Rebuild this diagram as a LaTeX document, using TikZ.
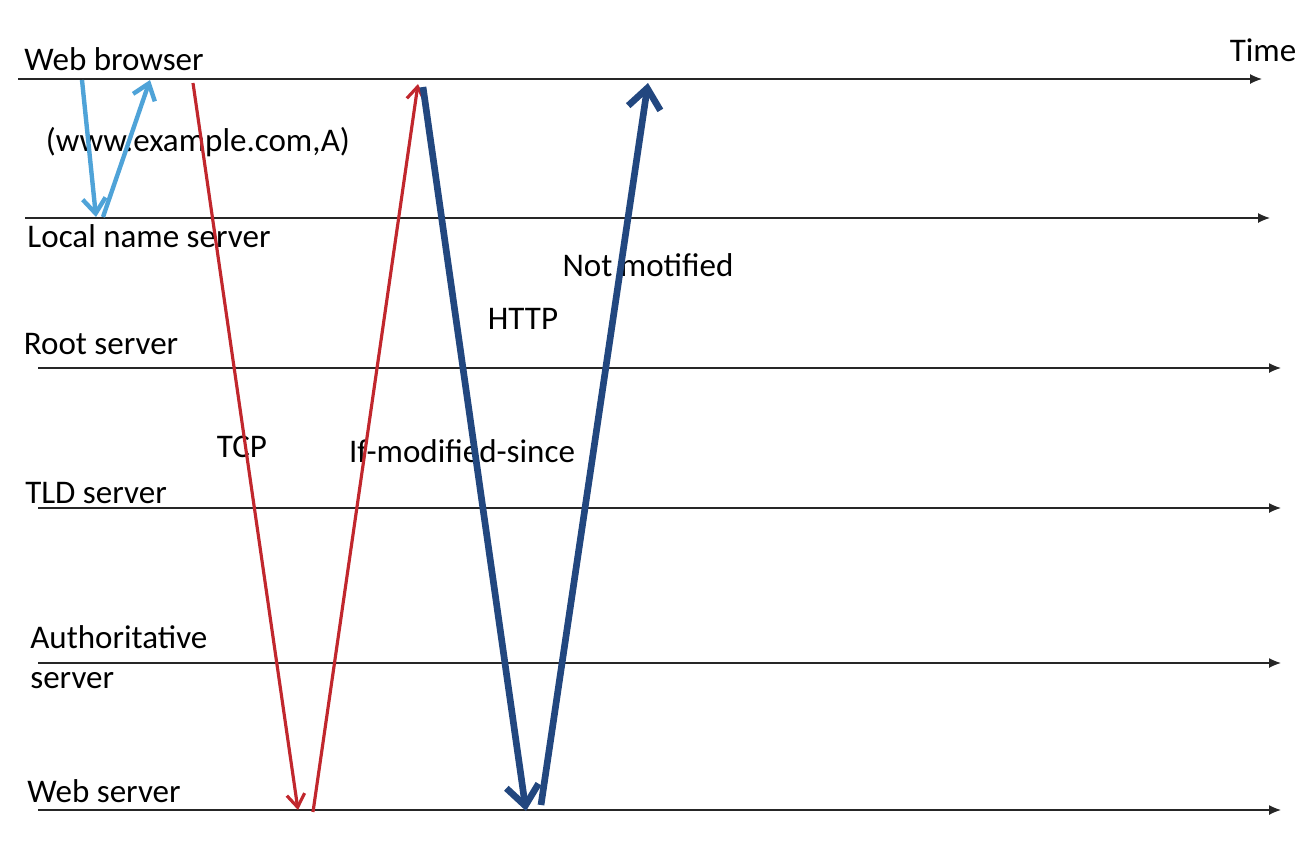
\documentclass[tikz,border=0pt]{standalone}
\usepackage{fontspec}
\setmainfont{Carlito}
\usetikzlibrary{arrows.meta}
\definecolor{dnsblue}{HTML}{4FA3D8}
\definecolor{tcpred}{HTML}{C1272D}
\definecolor{httpblue}{HTML}{22477F}

\begin{document}
\begin{tikzpicture}[x=0.02cm, y=-0.02cm, every node/.style={font=\fontsize{18.8}{22}\selectfont, inner sep=0pt},
  timeline/.style={draw=black!85, line width=0.7pt, -{Latex[length=2.4mm, width=2mm]}},
  dns/.style={draw=dnsblue, line width=2.5pt, -{Straight Barb[length=3mm, width=4.6mm]}},
  tcp/.style={draw=tcpred, line width=1.8pt, -{Straight Barb[length=2.6mm, width=3.6mm]}},
  http/.style={draw=httpblue, line width=3.8pt, -{Straight Barb[length=4mm, width=6.5mm]}}]
\useasboundingbox (0,0) rectangle (1306,850);
% time lines
\foreach \n/\y/\s/\e in {wb/79/18/1262, ln/218/25/1270, rs/368/38/1281, tld/508/38/1281, au/663/38/1281, ws/810/38/1281} {
  \coordinate (\n-s) at (\s,\y);
  \coordinate (\n-e) at (\e,\y);
  \draw[timeline] (\n-s) -- (\n-e);
}
% labels
\node (wb) at (114,59) {Web browser};
\node (time) at (1263,50) {Time};
\node (ln) at (149,236) {Local name server};
\node (rs) at (101,344) {Root server};
\node (tld) at (96,493) {TLD server};
\node (au) [align=left, anchor=west] at (30,657) {Authoritative\\[1pt]server};
\node (ws) at (104,791) {Web server};
\node (q) at (198,142) {(www.example.com,A)};
\node (tcplabel) at (242,447) {TCP};
\node (ims) at (462,451) {If-modified-since};
\node (httplabel) at (523,319) {HTTP};
\node (nm) at (648,265) {Not motified};
% message end points
\coordinate (d1) at (82,80);   \coordinate (d2) at (96,217);
\coordinate (d3) at (103,217); \coordinate (d4) at (150,80);
\coordinate (t1) at (193,83);  \coordinate (t2) at (298,810);
\coordinate (t3) at (313,812); \coordinate (t4) at (418,84);
\coordinate (h1) at (423,87);  \coordinate (h2) at (526,811);
\coordinate (h3) at (541,805); \coordinate (h4) at (648,83);
% messages
\draw[dns] (d1) -- (d2);
\draw[dns] (d3) -- (d4);
\draw[tcp] (t1) -- (t2);
\draw[tcp] (t3) -- (t4);
\draw[http] (h1) -- (h2);
\draw[http] (h3) -- (h4);
\end{tikzpicture}
\end{document}
